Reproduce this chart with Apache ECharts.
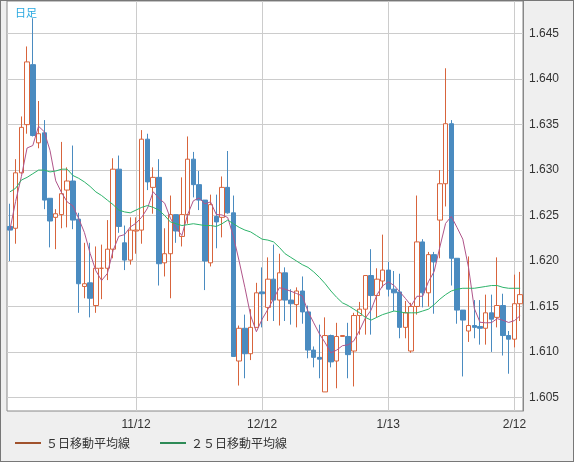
<!DOCTYPE html>
<html>
<head>
<meta charset="utf-8">
<script src="https://cdn.jsdelivr.net/npm/echarts@6/dist/echarts.min.js"></script>
<style>
html,body{margin:0;padding:0;background:#efefef;}
#main{width:574px;height:462px;box-sizing:border-box;border:1px solid #777;}
</style>
</head>
<body>
<div id="main"></div>
<script>
// daily candles: [open, close, low, high]
var candles = [
[1.6238,1.6234,1.6200,1.6263],[1.6236,1.6297,1.6219,1.6312],[1.6297,1.6347,1.6296,1.6359],[1.6350,1.6419,1.6340,1.6436],
[1.6416,1.6338,1.6337,1.6467],[1.6330,1.6340,1.6324,1.6376],[1.6341,1.6267,1.6257,1.6355],[1.6269,1.6244,1.6215,1.6269],
[1.6248,1.6252,1.6213,1.6257],[1.6251,1.6274,1.6236,1.6331],[1.6278,1.6288,1.6237,1.6303],[1.6288,1.6245,1.6235,1.6327],
[1.6246,1.6175,1.6143,1.6253],[1.6172,1.6175,1.6159,1.6220],[1.6176,1.6159,1.6138,1.6220],[1.6151,1.6192,1.6143,1.6216],
[1.6192,1.6192,1.6158,1.6218],[1.6192,1.6213,1.6179,1.6245],[1.6213,1.6301,1.6203,1.6313],[1.6301,1.6238,1.6231,1.6316],
[1.6220,1.6201,1.6190,1.6239],[1.6201,1.6234,1.6196,1.6248],[1.6233,1.6234,1.6208,1.6248],[1.6234,1.6334,1.6219,1.6344],
[1.6334,1.6287,1.6278,1.6340],[1.6281,1.6292,1.6252,1.6303],[1.6292,1.6197,1.6173,1.6312],[1.6198,1.6208,1.6183,1.6236],
[1.6208,1.6251,1.6159,1.6272],[1.6251,1.6233,1.6220,1.6251],[1.6227,1.6251,1.6216,1.6292],[1.6251,1.6312,1.6241,1.6337],
[1.6312,1.6284,1.6270,1.6320],[1.6284,1.6267,1.6256,1.6299],[1.6267,1.6200,1.6168,1.6267],[1.6198,1.6262,1.6194,1.6273],
[1.6249,1.6243,1.6214,1.6273],[1.6248,1.6281,1.6226,1.6293],[1.6281,1.6253,1.6252,1.6321],[1.6253,1.6095,1.6095,1.6272],
[1.6090,1.6126,1.6063,1.6129],[1.6126,1.6098,1.6071,1.6141],[1.6098,1.6127,1.6091,1.6147],[1.6127,1.6165,1.6127,1.6176],
[1.6166,1.6164,1.6127,1.6193],[1.6149,1.6180,1.6134,1.6204],[1.6180,1.6157,1.6134,1.6218],[1.6157,1.6187,1.6129,1.6208],
[1.6187,1.6157,1.6134,1.6193],[1.6157,1.6153,1.6130,1.6169],[1.6152,1.6167,1.6127,1.6171],[1.6167,1.6144,1.6131,1.6183],
[1.6144,1.6102,1.6093,1.6151],[1.6102,1.6094,1.6083,1.6106],[1.6094,1.6092,1.6071,1.6130],[1.6056,1.6118,1.6056,1.6138],
[1.6118,1.6089,1.6083,1.6119],[1.6090,1.6117,1.6060,1.6132],[1.6117,1.6118,1.6117,1.6118],[1.6117,1.6097,1.6071,1.6132],
[1.6101,1.6140,1.6062,1.6143],[1.6140,1.6147,1.6119,1.6155],[1.6147,1.6184,1.6119,1.6184],[1.6184,1.6162,1.6119,1.6213],
[1.6162,1.6180,1.6138,1.6192],[1.6178,1.6190,1.6171,1.6229],[1.6190,1.6169,1.6161,1.6199],[1.6169,1.6165,1.6145,1.6189],
[1.6166,1.6127,1.6115,1.6186],[1.6127,1.6143,1.6115,1.6156],[1.6101,1.6150,1.6099,1.6154],[1.6150,1.6221,1.6141,1.6272],
[1.6221,1.6165,1.6149,1.6224],[1.6165,1.6207,1.6150,1.6210],[1.6207,1.6199,1.6142,1.6210],[1.6245,1.6285,1.6203,1.6300],
[1.6285,1.6351,1.6260,1.6412],[1.6351,1.6203,1.6173,1.6355],[1.6203,1.6146,1.6131,1.6203],[1.6146,1.6135,1.6073,1.6146],
[1.6123,1.6129,1.6111,1.6205],[1.6129,1.6127,1.6115,1.6157],[1.6128,1.6126,1.6108,1.6157],[1.6126,1.6143,1.6108,1.6163],
[1.6143,1.6136,1.6100,1.6163],[1.6138,1.6151,1.6127,1.6204],[1.6151,1.6118,1.6096,1.6164],[1.6118,1.6114,1.6076,1.6123],
[1.6114,1.6153,1.6105,1.6185],[1.6153,1.6163,1.6134,1.6188]
];
// 25-day MA
var ma25 = [
1.6276,1.6280,1.6289,1.6292,1.6296,1.6300,1.6300,1.6298,1.6299,1.6301,1.6301,1.6294,1.6291,1.6287,1.6282,
1.6276,1.6272,1.6267,1.6262,1.6256,1.6254,1.6253,1.6256,1.6259,1.6261,1.6259,1.6256,1.6250,1.6243,1.6241,
1.6239,1.6240,1.6241,1.6240,1.6239,1.6239,1.6238,1.6241,1.6245,1.6241,1.6237,1.6234,1.6232,1.6228,1.6224,
1.6223,1.6221,1.6215,1.6208,1.6204,1.6200,1.6196,1.6193,1.6188,1.6182,1.6175,1.6167,1.6160,1.6154,1.6151,
1.6147,1.6143,1.6138,1.6135,1.6138,1.6141,1.6143,1.6145,1.6144,1.6143,1.6143,1.6143,1.6145,1.6147,1.6152,
1.6158,1.6163,1.6167,1.6169,1.6170,1.6170,1.6170,1.6171,1.6172,1.6173,1.6173,1.6171,1.6170,1.6170,1.6170
];
var monthTicks = {22:'11/12', 44:'12/12', 66:'1/13', 88:'2/12'};
var priceTicks = [1.605,1.610,1.615,1.620,1.625,1.630,1.635,1.640,1.645];

var days = candles.map(function (c, i) { return 'd' + i; });
var ma5 = candles.map(function (c, i) {
    var s = 0, n = 0;
    for (var k = Math.max(0, i - 4); k <= i; k++) { s += candles[k][1]; n++; }
    return +(s / n).toFixed(5);
});
var monthLines = Object.keys(monthTicks).map(function (k) { return {xAxis: +k}; });

var myChart = echarts.init(document.getElementById('main'));
var option = {
    animation: false,
    backgroundColor: '#efefef',
    title: {
        text: '日足', left: 9, top: 1,
        textStyle: {color: '#29a8e0', fontSize: 11, fontWeight: 'normal', fontFamily: 'Noto Sans CJK JP'}
    },
    legend: {
        left: 9, bottom: 7, itemWidth: 26, itemHeight: 2, itemGap: 30,
        icon: 'rect',
        textStyle: {color: '#333', fontSize: 12, fontFamily: 'Noto Sans CJK JP'},
        data: ['５日移動平均線', '２５日移動平均線']
    },
    grid: {left: 6, right: 50, top: 0, bottom: 50, show: true, backgroundColor: '#fff', borderColor: '#888', borderWidth: 1},
    xAxis: {
        type: 'category', data: days, boundaryGap: true,
        axisLine: {show: false}, axisTick: {show: false},
        axisLabel: {
            interval: 0, color: '#333', fontSize: 12, margin: 8,
            formatter: function (v, i) { return monthTicks[i] || ''; }
        },
        splitLine: {show: false}
    },
    yAxis: {
        type: 'value', position: 'right', scale: true,
        min: 1.6035, max: 1.6486,
        axisLine: {show: true, lineStyle: {color: '#888'}},
        axisTick: {show: false, customValues: priceTicks},
        axisLabel: {color: '#333', fontSize: 12, customValues: priceTicks, margin: 6,
            formatter: function (v) { return v.toFixed(3); }},
        splitLine: {show: true, lineStyle: {color: '#ccc'}}
    },
    series: [
        {
            name: '日足', type: 'candlestick', data: candles, barWidth: 5, z: 3,
            itemStyle: {color: '#fff', color0: '#4a8bc0', borderColor: '#d8643c', borderColor0: '#4a8bc0', borderWidth: 1},
            markLine: {
                silent: true, symbol: 'none', label: {show: false}, z: 1,
                lineStyle: {color: '#ccc', type: 'solid', width: 1},
                data: monthLines
            }
        },
        {
            name: '５日移動平均線', type: 'line', data: ma5, symbol: 'none', smooth: false, z: 4,
            lineStyle: {color: '#b0558a', width: 1}, itemStyle: {color: '#a0522d'}
        },
        {
            name: '２５日移動平均線', type: 'line', data: ma25, symbol: 'none', z: 4,
            lineStyle: {color: '#2db36a', width: 1}, itemStyle: {color: '#2e8b57'}
        }
    ]
};
myChart.setOption(option);
</script>
</body>
</html>
